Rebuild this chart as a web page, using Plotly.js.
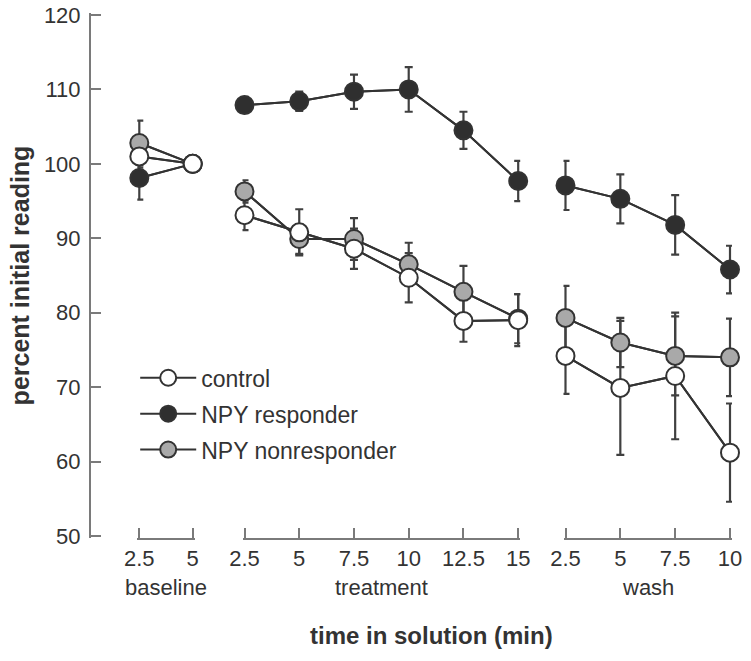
<!DOCTYPE html>
<html>
<head>
<meta charset="utf-8">
<script src="https://cdn.plot.ly/plotly-3.0.1.min.js"></script>
<style>
  html, body { margin: 0; padding: 0; background: #ffffff; }
  #chart { width: 751px; height: 661px; }
</style>
</head>
<body>
<div id="chart"></div>
<script>
// ---- data ----
const baselineX  = [2.5, 5];
const treatmentX = [2.5, 5, 7.5, 10, 12.5, 15];
const washX      = [2.5, 5, 7.5, 10];
const yTicks     = [50, 60, 70, 80, 90, 100, 110, 120];
const groupNames = ['baseline', 'treatment', 'wash'];
const seriesNames = ['control', 'NPY responder', 'NPY nonresponder'];
const xTitle = 'time in solution (min)';
const yTitle = 'percent initial reading';

// control (open circles)
const controlBaseline     = [101.0, 100];
const controlBaselineErr  = [1.5, 0];
const controlTreatment    = [93.1, 90.8, 88.6, 84.7, 78.9, 79.0];
const controlTreatmentErr = [2.0, 3.1, 2.7, 3.3, 2.8, 3.5];
const controlWash         = [74.2, 69.9, 71.5, 61.2];
const controlWashErr      = [5.1, 9.0, 8.5, 6.6];

// NPY responder (black circles)
const responderBaseline     = [98.1, 100];
const responderBaselineErr  = [2.9, 0];
const responderTreatment    = [107.9, 108.4, 109.7, 110.0, 104.5, 97.7];
const responderTreatmentErr = [1.1, 1.3, 2.3, 3.0, 2.5, 2.7];
const responderWash         = [97.1, 95.3, 91.8, 85.8];
const responderWashErr      = [3.3, 3.3, 4.0, 3.2];

// NPY nonresponder (grey circles)
const nonresponderBaseline     = [102.8, 100];
const nonresponderBaselineErr  = [3.0, 0];
const nonresponderTreatment    = [96.3, 89.9, 89.9, 86.5, 82.8, 79.2];
const nonresponderTreatmentErr = [1.5, 2.0, 2.8, 2.9, 3.5, 3.3];
const nonresponderWash         = [79.3, 76.0, 74.2, 74.0];
const nonresponderWashErr      = [4.3, 3.3, 5.3, 5.2];

// ---- styling / geometry ----
const FONT = 'Liberation Sans, Arial, Helvetica, sans-serif';
const INK = '#333333';
const AXIS = '#7a7a7a';
const W = 751, H = 661;
const M = { l: 90, r: 19, t: 13, b: 123 };
const PW = W - M.l - M.r;          // plot width in px
const PH = H - M.t - M.b;          // plot height in px
const PAD = 2;                     // px kept beyond the end ticks so they are drawn

// place each panel so its end ticks land on the reference pixels
function fit(p0, p1, v0, v1) {
  const k = (p1 - p0) / (v1 - v0);
  return {
    domain: [(p0 - PAD - M.l) / PW, Math.min(1, (p1 + PAD - M.l) / PW)],
    range: [v0 - PAD / k, v1 + PAD / k]
  };
}
const yPxPerUnit = PH / (70 + 2 * PAD * 70 / (PH - 2 * PAD));
const yRange = [50 - PAD * 70 / (PH - 2 * PAD), 120 + PAD * 70 / (PH - 2 * PAD)];
const bottomPx = H - M.b;
const pyPaper = py => (bottomPx - py) / PH;

const groups = [
  { x: baselineX,  xa: 'x',  name: groupNames[0], fit: fit(139.3, 192.7, 2.5, 5) },
  { x: treatmentX, xa: 'x2', name: groupNames[1], fit: fit(244.5, 518.2, 2.5, 15) },
  { x: washX,      xa: 'x3', name: groupNames[2], fit: fit(565.5, 730, 2.5, 10) }
];

// drawing order: responder, nonresponder, control (control on top)
const series = [
  { name: seriesNames[1], fill: '#2f2f2f', rank: 2,
    y: [responderBaseline, responderTreatment, responderWash],
    e: [responderBaselineErr, responderTreatmentErr, responderWashErr] },
  { name: seriesNames[2], fill: '#a9a9a9', rank: 3,
    y: [nonresponderBaseline, nonresponderTreatment, nonresponderWash],
    e: [nonresponderBaselineErr, nonresponderTreatmentErr, nonresponderWashErr] },
  { name: seriesNames[0], fill: '#ffffff', rank: 1,
    y: [controlBaseline, controlTreatment, controlWash],
    e: [controlBaselineErr, controlTreatmentErr, controlWashErr] }
];

const traces = [];
// phase 1: connecting lines + error bars (below every marker)
groups.forEach((g, gi) => {
  series.forEach(s => {
    traces.push({
      type: 'scatter', mode: 'lines', x: g.x, y: s.y[gi],
      xaxis: g.xa, yaxis: 'y', showlegend: false, hoverinfo: 'skip',
      line: { color: INK, width: 2 },
      error_y: { type: 'data', array: s.e[gi], visible: true,
                 color: '#404040', thickness: 2.2, width: 4 },
      cliponaxis: false
    });
  });
});
// phase 2: markers on top
groups.forEach((g, gi) => {
  series.forEach(s => {
    traces.push({
      type: 'scatter', mode: 'lines+markers', x: g.x, y: s.y[gi],
      xaxis: g.xa, yaxis: 'y', name: s.name,
      legendgroup: s.name, legendrank: s.rank,
      showlegend: gi === 1,
      line: { color: INK, width: 2 },
      marker: { size: 18, color: s.fill, line: { color: INK, width: 2 } },
      cliponaxis: false
    });
  });
});

function xAxis(g) {
  return {
    domain: g.fit.domain, range: g.fit.range, anchor: 'y',
    tickvals: g.x, ticktext: g.x.map(String),
    ticks: 'inside', ticklen: 10, tickwidth: 2, tickcolor: AXIS,
    showline: true, linecolor: AXIS, linewidth: 2,
    showgrid: false, zeroline: false,
    tickfont: { family: FONT, size: 22, color: INK },
    ticklabelstandoff: 0
  };
}

const layout = {
  width: W, height: H,
  margin: { l: M.l, r: M.r, t: M.t, b: M.b, pad: 0 },
  paper_bgcolor: '#ffffff', plot_bgcolor: 'rgba(0,0,0,0)',
  font: { family: FONT, size: 22, color: INK },
  showlegend: true,
  legend: {
    x: (135.2 - M.l) / PW, xanchor: 'left', y: pyPaper(356.3), yanchor: 'top',
    bgcolor: 'rgba(0,0,0,0)', borderwidth: 0,
    font: { family: FONT, size: 23, color: INK },
    itemwidth: 56, tracegroupgap: 3, traceorder: 'grouped'
  },
  xaxis:  xAxis(groups[0]),
  xaxis2: xAxis(groups[1]),
  xaxis3: xAxis(groups[2]),
  yaxis: {
    range: yRange, tickvals: yTicks, ticktext: yTicks.map(String),
    anchor: 'free', position: 0,
    ticks: 'inside', ticklen: 10, tickwidth: 2, tickcolor: AXIS,
    showline: true, linecolor: AXIS, linewidth: 2,
    showgrid: false, zeroline: false,
    tickfont: { family: FONT, size: 22, color: INK },
    ticklabelstandoff: 4,
    title: { text: yTitle, font: { family: FONT, size: 25, color: INK, weight: 700 } }
  },
  annotations: [{
    text: xTitle, xref: 'paper', yref: 'paper',
    x: (431 - M.l) / PW, y: pyPaper(635),
    xanchor: 'center', yanchor: 'middle', showarrow: false,
    font: { family: FONT, size: 24, color: INK, weight: 700 }
  }].concat(groups.map(g => ({
    text: g.name, xref: 'paper', yref: 'paper',
    x: (g.fit.domain[0] + g.fit.domain[1]) / 2, y: pyPaper(587),
    xanchor: 'center', yanchor: 'middle', showarrow: false,
    font: { family: FONT, size: 22, color: INK }
  })))
};

Plotly.newPlot('chart', traces, layout, { displayModeBar: false, staticPlot: true });
</script>
</body>
</html>
